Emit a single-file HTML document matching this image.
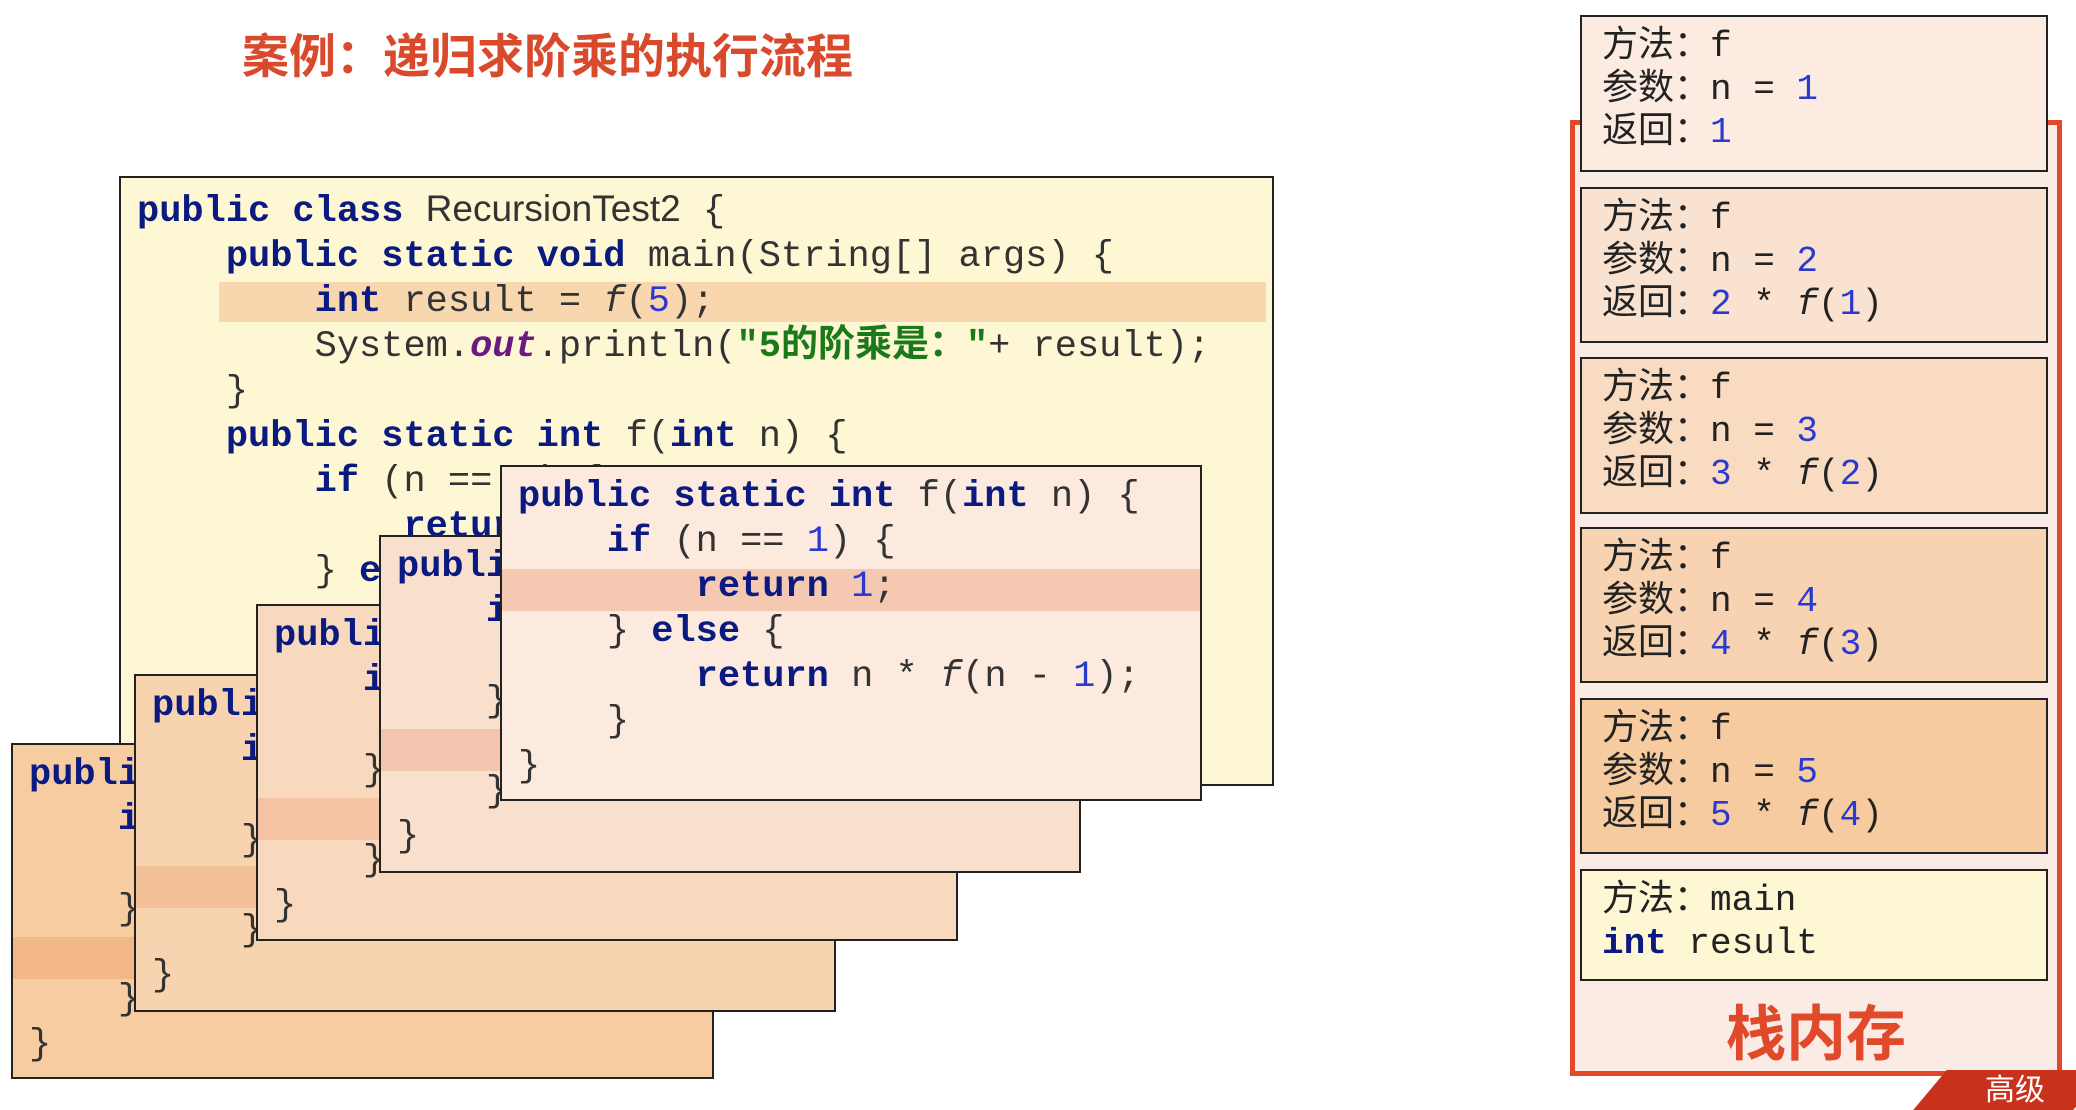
<!DOCTYPE html>
<html><head><meta charset="utf-8"><style>
body{margin:0;width:2076px;height:1098px;background:#fff;position:relative;overflow:hidden;font-family:"Liberation Mono","Noto Sans CJK SC",monospace;}
.abs{position:absolute;box-sizing:border-box;}
.title{left:242px;top:18px;font:bold 47px "Liberation Sans","Noto Sans CJK SC",sans-serif;color:#d94a2c;letter-spacing:0px;}
.box{border:2px solid #222;overflow:hidden;}
.code{position:absolute;left:16px;white-space:pre;font-size:37px;line-height:45px;color:#333;}
.k{color:#0a1a80;font-weight:bold;}
.n{color:#2a3ad0;}
.i{font-style:italic;}
.o{color:#6a1a80;font-style:italic;font-weight:bold;}
.s{color:#1a7a1a;font-weight:bold;font-family:"Liberation Mono","Noto Sans CJK SC",monospace;}
.sans{font-family:"Liberation Sans",sans-serif;}
.hl{position:absolute;left:0;right:0;height:42px;}
.fr{border:2px solid #222;}
.fr .t{position:absolute;left:20px;top:8px;white-space:pre;font-size:36px;line-height:43px;color:#222;font-family:"Liberation Mono","Noto Sans CJK SC",monospace;}
</style></head><body>
<div class="abs title">案例：递归求阶乘的执行流程</div>

<!-- main box -->
<div class="abs box" style="left:119px;top:176px;width:1155px;height:610px;background:#fdf7d3;">
<div class="hl" style="left:98px;right:6px;top:104px;height:40px;background:#f8d6ae;"></div>
<div class="code" style="top:8px;"><span class="k">public class</span> <span class="sans">RecursionTest2</span> {
    <span class="k">public static void</span> main(String[] args) {
        <span class="k">int</span> result = <span class="i">f</span>(<span class="n">5</span>);
        System.<span class="o">out</span>.println(<span class="s">"5的阶乘是："</span>+ result);
    }
    <span class="k">public static int</span> f(<span class="k">int</span> n) {
        <span class="k">if</span> (n == <span class="n">1</span>) {
            <span class="k">return</span> <span class="n">1</span>;
        } <span class="k">else</span> {
            <span class="k">return</span> n * <span class="i">f</span>(n - <span class="n">1</span>);
        }
    }
}</div>
</div>

<!-- stacked boxes A..D -->
<div class="abs box" style="left:11px;top:743px;width:703px;height:336px;background:#f6cca0;">
<div class="hl" style="top:192px;background:#f2b787;"></div>
<div class="code" style="top:8px;"><span class="k">public static int</span> f(<span class="k">int</span> n) {
    <span class="k">if</span> (n == <span class="n">1</span>) {
        <span class="k">return</span> <span class="n">1</span>;
    } <span class="k">else</span> {
        <span class="k">return</span> n * <span class="i">f</span>(n - <span class="n">1</span>);
    }
}</div></div>
<div class="abs box" style="left:134px;top:674px;width:702px;height:338px;background:#f7d3af;">
<div class="hl" style="top:190px;background:#f3bf97;"></div>
<div class="code" style="top:8px;"><span class="k">public static int</span> f(<span class="k">int</span> n) {
    <span class="k">if</span> (n == <span class="n">1</span>) {
        <span class="k">return</span> <span class="n">1</span>;
    } <span class="k">else</span> {
        <span class="k">return</span> n * <span class="i">f</span>(n - <span class="n">1</span>);
    }
}</div></div>
<div class="abs box" style="left:256px;top:604px;width:702px;height:337px;background:#f8d9bd;">
<div class="hl" style="top:192px;background:#f4c3a4;"></div>
<div class="code" style="top:8px;"><span class="k">public static int</span> f(<span class="k">int</span> n) {
    <span class="k">if</span> (n == <span class="n">1</span>) {
        <span class="k">return</span> <span class="n">1</span>;
    } <span class="k">else</span> {
        <span class="k">return</span> n * <span class="i">f</span>(n - <span class="n">1</span>);
    }
}</div></div>
<div class="abs box" style="left:379px;top:535px;width:702px;height:338px;background:#f9e0cc;">
<div class="hl" style="top:192px;background:#f4c5ae;"></div>
<div class="code" style="top:8px;"><span class="k">public static int</span> f(<span class="k">int</span> n) {
    <span class="k">if</span> (n == <span class="n">1</span>) {
        <span class="k">return</span> <span class="n">1</span>;
    } <span class="k">else</span> {
        <span class="k">return</span> n * <span class="i">f</span>(n - <span class="n">1</span>);
    }
}</div></div>
<div class="abs box" style="left:500px;top:465px;width:702px;height:336px;background:#fbeadd;">
<div class="hl" style="top:102px;background:#f5c8b2;"></div>
<div class="code" style="top:8px;"><span class="k">public static int</span> f(<span class="k">int</span> n) {
    <span class="k">if</span> (n == <span class="n">1</span>) {
        <span class="k">return</span> <span class="n">1</span>;
    } <span class="k">else</span> {
        <span class="k">return</span> n * <span class="i">f</span>(n - <span class="n">1</span>);
    }
}</div></div>

<!-- stack memory -->
<div class="abs" style="left:1570px;top:120px;width:492px;height:956px;border:5px solid #e04a2a;background:#fbebe5;"></div>
<div class="abs" style="left:1570px;top:1000px;width:492px;text-align:center;font:bold 60px 'Noto Sans CJK SC',sans-serif;color:#e04a2a;line-height:60px;">栈内存</div>

<div class="abs fr" style="left:1580px;top:15px;width:468px;height:157px;background:#fbebe0;"><div class="t">方法：f
参数：n = <span class="n">1</span>
返回：<span class="n">1</span></div></div>
<div class="abs fr" style="left:1580px;top:187px;width:468px;height:156px;background:#f9e2d0;"><div class="t">方法：f
参数：n = <span class="n">2</span>
返回：<span class="n">2</span> * <span class="i">f</span>(<span class="n">1</span>)</div></div>
<div class="abs fr" style="left:1580px;top:357px;width:468px;height:157px;background:#f8dbc1;"><div class="t">方法：f
参数：n = <span class="n">3</span>
返回：<span class="n">3</span> * <span class="i">f</span>(<span class="n">2</span>)</div></div>
<div class="abs fr" style="left:1580px;top:527px;width:468px;height:156px;background:#f7d3b1;"><div class="t">方法：f
参数：n = <span class="n">4</span>
返回：<span class="n">4</span> * <span class="i">f</span>(<span class="n">3</span>)</div></div>
<div class="abs fr" style="left:1580px;top:698px;width:468px;height:156px;background:#f6cba0;"><div class="t">方法：f
参数：n = <span class="n">5</span>
返回：<span class="n">5</span> * <span class="i">f</span>(<span class="n">4</span>)</div></div>
<div class="abs fr" style="left:1580px;top:869px;width:468px;height:112px;background:#fdf7d3;"><div class="t">方法：main
<span class="k">int</span> result</div></div>

<div class="abs" style="left:1930px;top:1070px;width:160px;height:40px;background:#c8321c;transform:skewX(-40deg);"></div>
<div class="abs" style="left:1985px;top:1072px;font:30px 'Noto Sans CJK SC',sans-serif;color:#fff;line-height:30px;">高级</div>
</body></html>
